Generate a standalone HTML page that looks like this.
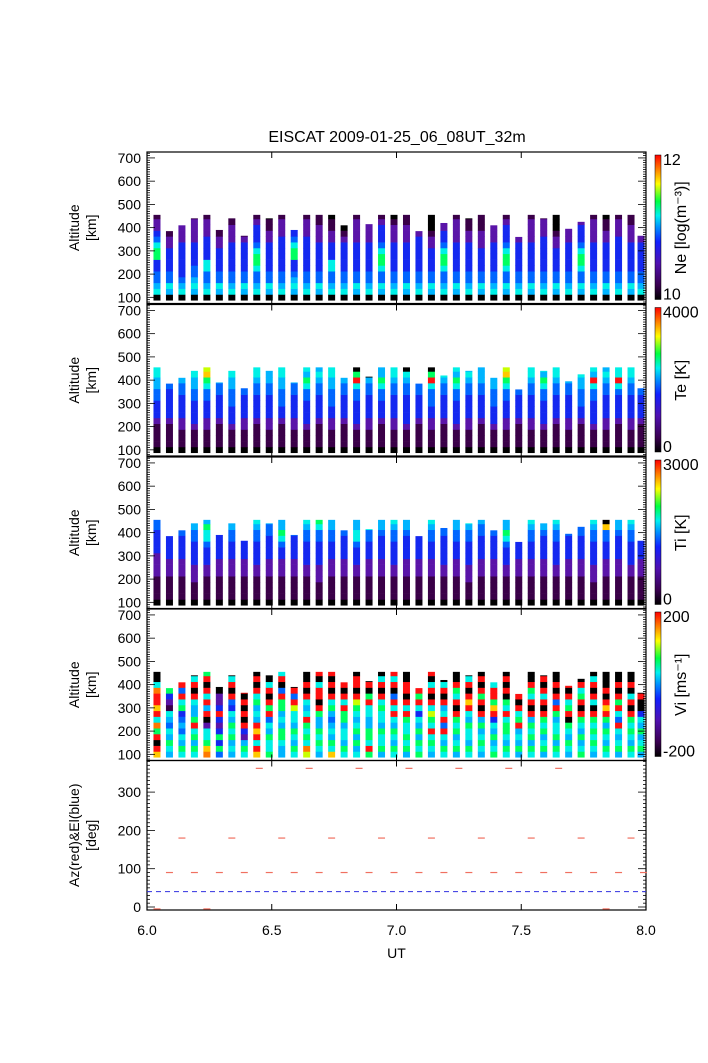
<!DOCTYPE html>
<html><head><meta charset="utf-8"><style>
body{margin:0;background:#fff;}
svg{display:block;font-family:"Liberation Sans",sans-serif;}
</style></head><body>
<svg id="c" width="708" height="1063" viewBox="0 0 708 1063">
<defs>
<linearGradient id="cb" x1="0" y1="1" x2="0" y2="0">
<stop offset="0" stop-color="#000"/><stop offset="0.1" stop-color="#3a0050"/><stop offset="0.25" stop-color="#5010b0"/>
<stop offset="0.4" stop-color="#1020ff"/><stop offset="0.5" stop-color="#0090ff"/><stop offset="0.58" stop-color="#00f0f0"/>
<stop offset="0.68" stop-color="#00ff40"/><stop offset="0.8" stop-color="#ffff00"/><stop offset="0.9" stop-color="#ff8000"/><stop offset="1" stop-color="#ff0000"/>
</linearGradient>
</defs>
<text x="397" y="142" font-size="16" text-anchor="middle">EISCAT 2009-01-25_06_08UT_32m</text>
</svg>
<script>
const times=[6.04,6.09,6.14,6.19,6.24,6.29,6.34,6.39,6.44,6.49,6.54,6.59,6.64,6.69,6.74,6.79,6.84,6.89,6.94,6.99,7.04,7.09,7.14,7.19,7.24,7.29,7.34,7.39,7.44,7.49,7.54,7.59,7.64,7.69,7.74,7.79,7.84,7.89,7.94,7.98];
const tops=[455,385,410,440,455,390,440,365,455,440,455,390,455,455,455,410,455,415,455,455,455,385,455,420,455,440,455,410,455,360,455,440,455,395,425,455,455,455,455,365];
const neVals=["065443377643221","056443333221100","065433333322211","056544333322221","065446633332221","056443333221100","065443333322211","056443333321000","065446776433321","056443333322110","065443333332221","056543377643321","065443333332221","056443333322211","065446633322110","065443333321000","056443333322221","065443333322221","056446776433321","065443333322210","056443333322211","065443333332221","056443333221000","065446776433221","056443333322221","065443333322110","056443333222111","065443333322211","056446776433321","065443333321000","056443333322221","065443333332221","056443333221000","065443333322211","056446776433321","065443333322221","056443333322110","065443333332221","056443333322211","065443333322221"];
const teVals=["011112333445566","011112333334450","011122333344560","011123333445566","011122333446798","011112333344500","011123334445566","011122333344r55","011112333344566","011122333344555","011112334445566","011122333344560","011123333446756","011112333344565","011122334445566","011112333344560","011123333446r70","011122333344500","011112333446755","011122333344566","011123333344560","011112333344555","011122334446r70","011112333344566","011123333446756","011122333344565","011112333344555","011123334445566","011122333446798","011112333344500","011122333344566","011123333446756","011112333344566","011122333344500","011112334445566","011123333446r56","011122333344565","011112333346r66","011122333344566","011112333344500"];
const tiVals=["011112222333344","011112223333340","011112223333450","011122233334455","011112233346675","011112223333340","011112223334455","011112223333300","011112233334456","011112223333445","011112223346755","011112223333440","011112233334456","011122233334467","011112223334455","011112223333440","011112233346655","011112223334460","011112223333455","011112233334456","011112223333455","011112223333440","011112223334456","011112233333440","011112223334455","011122233334456","011112223333445","011112223333440","011112233346755","011112223333300","011112223334456","011112223333455","011112233334456","011112223333440","011112223333445","011122233334456","011112223334490","011112223333455","011112233334456","011112223333400"];
const viVals=["9r0r7o6r9rro600","567564561237r0r","6756454376r4r60","67576r7556r0r60","o976620r5r6r0r7","4737323r32200r0","5657675634r0r60","67523r0r0r0r00r","9r6r9r56576r0r0","7667564r7r0r600","5567756577r40r6","675675668r4r0r0","8o6767r656r0r00","56767557r0rr60r","9675654576r0r0r","67566577r6r0r00","6575765678r0rr0","7r6775566r70r0r","5766756676r0r60","6756756r6r40r6r","5767667r6r0rr00","767575636r7r0r0","5676r6786r0r60r","6756r4r65r0r60r","5765767r0r67r00","67566756r9r0r60","5676575r0r7r0r0","7657563r97rr600","6756776r670r0r0","57565r76r0r0r60","6757675r0r67r00","5765767r0r6r0r0","67576657r4r0r00","5675670r76r0r60","7657567r0r76r00","5676767r06r0r60","6756757r9r0r000","57656r46r7r0r00","6756767r0r60r00","5765756300r0r60"];
const vColors={'0':'#000000','1':'#3a0048','2':'#5a14a8','3':'#1428f0','4':'#0066ff','5':'#00b4ff','6':'#00f0e6','7':'#00ff60','8':'#c8ff00','9':'#ffc800','o':'#ff7800','r':'#ff1010','e':'#00e080'};
const azT360=[6.45,6.65,6.85,7.05,7.25,7.45,7.65];
const azT180=[6.14,6.34,6.54,6.74,6.94,7.14,7.34,7.54,7.74,7.94];
const azT90=[6.09,6.19,6.29,6.39,6.49,6.59,6.69,6.79,6.89,6.99,7.09,7.19,7.29,7.39,7.49,7.59,7.69,7.79,7.89,7.99];
const azT0=[6.04,6.24,7.84];
const elValue=40;

const NS="http://www.w3.org/2000/svg";
const svg=document.getElementById('c');
function mk(tag,attrs,parent){const e=document.createElementNS(NS,tag);for(const k in attrs)e.setAttribute(k,attrs[k]);(parent||svg).appendChild(e);return e;}
const X0=147,X1=646;
const xs=t=>X0+(t-6)/2*(X1-X0);
const panels=[{top:152,data:neVals,lab:['12','10'],title:'Ne [log(m\u207B\u00B3)]',name:'ne'},
{top:304.5,data:teVals,lab:['4000','0'],title:'Te [K]',name:'te'},
{top:457,data:tiVals,lab:['3000','0'],title:'Ti [K]',name:'ti'},
{top:609,data:viVals,lab:['200','-200'],title:'Vi [ms\u207B\u00B9]',name:'vi'}];
const PH=151.5, K=PH/652;
panels.forEach((p,pi)=>{
  const ys=a=>p.top+(725.5-a)*K;
  const g=mk('g',{});
  
  
  times.forEach((t,ci)=>{
    const s=p.data[ci];const top=tops[ci];
    for(let b=0;b<s.length;b++){
      const lo=87.5+b*25; if(lo>=top)break;
      const hi=Math.min(lo+25,top);
      const r=mk('rect',{x:xs(t)-3.5,y:ys(hi),width:7,height:ys(lo)-ys(hi)+0.3,fill:vColors[s[b]]||'#000'},g);
      
      
    }
  });
  mk('rect',{x:X0,y:p.top,width:X1-X0,height:PH,fill:'none',stroke:'#000','stroke-width':1.2});
  for(let a=80;a<=720;a+=10){const y=ys(a);if(y<p.top||y>p.top+PH)continue;const L=a%100==0?8:3;
    mk('line',{x1:X0,x2:X0+L,y1:y,y2:y,stroke:'#000','stroke-width':0.8});
    mk('line',{x1:X1,x2:X1-L,y1:y,y2:y,stroke:'#000','stroke-width':0.8});}
  for(let a=100;a<=700;a+=100){const tx=mk('text',{x:X0-6,y:ys(a)+5,'font-size':14,'text-anchor':'end'});tx.textContent=a;
    }
  [6.5,7,7.5].forEach(t=>{mk('line',{x1:xs(t),x2:xs(t),y1:p.top,y2:p.top+6,stroke:'#000'});mk('line',{x1:xs(t),x2:xs(t),y1:p.top+PH,y2:p.top+PH-6,stroke:'#000'});});
  const yl=mk('text',{transform:`translate(79,${p.top+PH/2}) rotate(-90)`,'font-size':14,'text-anchor':'middle'});yl.textContent='Altitude';
  
  const yl2=mk('text',{transform:`translate(96,${p.top+PH/2}) rotate(-90)`,'font-size':14,'text-anchor':'middle'});yl2.textContent='[km]';
  
  const cb=mk('rect',{x:655,y:p.top+3,width:6,height:PH-7,fill:'url(#cb)',stroke:'#000','stroke-width':0.5});
  
  const t1=mk('text',{x:663,y:p.top+13,'font-size':16});t1.textContent=p.lab[0];
  
  const t2=mk('text',{x:663,y:p.top+PH-4,'font-size':16});t2.textContent=p.lab[1];
  
  const ct=mk('text',{transform:`translate(686,${p.top+PH/2}) rotate(-90)`,'font-size':16,'text-anchor':'middle'});ct.textContent=p.title;
  
});
const BT=760.5,BB=910;
const ya=v=>907-v*0.383;
mk('rect',{x:X0,y:BT,width:X1-X0,height:BB-BT,fill:'none',stroke:'#000','stroke-width':1.2});
for(let v=0;v<=380;v+=10){const y=ya(v);const L=v%100==0?8:3;
  mk('line',{x1:X0,x2:X0+L,y1:y,y2:y,stroke:'#000','stroke-width':0.8});
  mk('line',{x1:X1,x2:X1-L,y1:y,y2:y,stroke:'#000','stroke-width':0.8});}
for(let v=0;v<=300;v+=100){const tx=mk('text',{x:X0-6,y:ya(v)+5,'font-size':14,'text-anchor':'end'});tx.textContent=v;
  }
[6,6.5,7,7.5,8].forEach(t=>{mk('line',{x1:xs(t),x2:xs(t),y1:BB,y2:BB-6,stroke:'#000'});mk('line',{x1:xs(t),x2:xs(t),y1:BT,y2:BT+6,stroke:'#000'});
  const tx=mk('text',{x:xs(t),y:BB+25,'font-size':14,'text-anchor':'middle'});tx.textContent=t.toFixed(1);
  });
const xl=mk('text',{x:(X0+X1)/2,y:958,'font-size':14,'text-anchor':'middle'});xl.textContent='UT';

const b1=mk('text',{transform:`translate(79,${(BT+BB)/2}) rotate(-90)`,'font-size':14,'text-anchor':'middle'});b1.textContent='Az(red)&El(blue)';

const b2=mk('text',{transform:`translate(96,${(BT+BB)/2}) rotate(-90)`,'font-size':14,'text-anchor':'middle'});b2.textContent='[deg]';

const el=mk('line',{x1:X0,x2:X1,y1:ya(elValue),y2:ya(elValue),stroke:'#3030e0','stroke-width':1,'stroke-dasharray':'5,4'});

[[azT360,362],[azT180,180],[azT90,90],[azT0,-5]].forEach(([arr,v])=>{arr.forEach(t=>{
  const d=mk('line',{x1:xs(t)-3.5,x2:xs(t)+3.5,y1:ya(v),y2:ya(v),stroke:'#f07060','stroke-width':1.2});
  });});
</script>
</body></html>
